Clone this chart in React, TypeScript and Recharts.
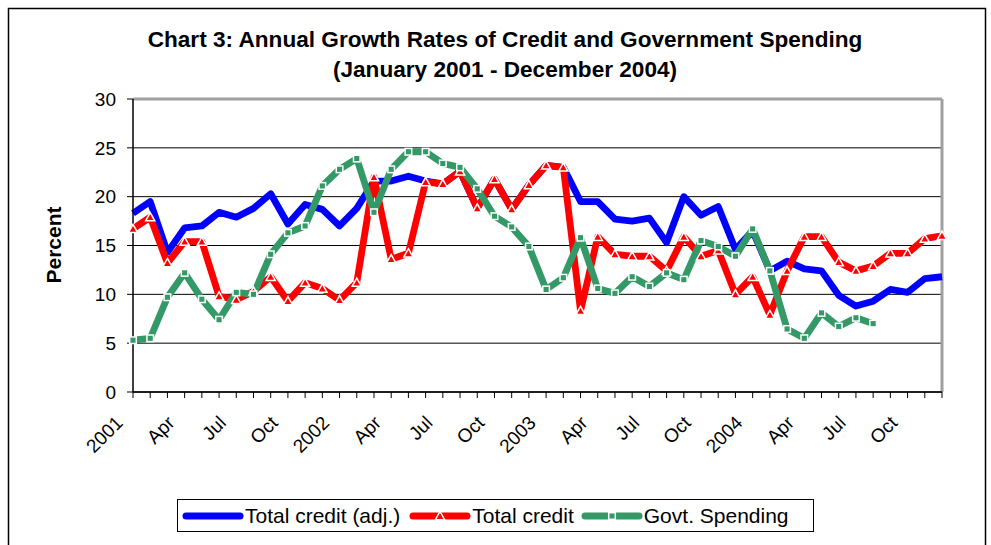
import React from "react";
import { LineChart, Line, XAxis, YAxis, CartesianGrid, ReferenceLine } from "recharts";

const categories = [
  "Jan 2001", "Feb 2001", "Mar 2001", "Apr 2001", "May 2001", "Jun 2001",
  "Jul 2001", "Aug 2001", "Sep 2001", "Oct 2001", "Nov 2001", "Dec 2001",
  "Jan 2002", "Feb 2002", "Mar 2002", "Apr 2002", "May 2002", "Jun 2002",
  "Jul 2002", "Aug 2002", "Sep 2002", "Oct 2002", "Nov 2002", "Dec 2002",
  "Jan 2003", "Feb 2003", "Mar 2003", "Apr 2003", "May 2003", "Jun 2003",
  "Jul 2003", "Aug 2003", "Sep 2003", "Oct 2003", "Nov 2003", "Dec 2003",
  "Jan 2004", "Feb 2004", "Mar 2004", "Apr 2004", "May 2004", "Jun 2004",
  "Jul 2004", "Aug 2004", "Sep 2004", "Oct 2004", "Nov 2004", "Dec 2004",
];

const tickLabels = [
  "2001", "Apr", "Jul", "Oct",
  "2002", "Apr", "Jul", "Oct",
  "2003", "Apr", "Jul", "Oct",
  "2004", "Apr", "Jul", "Oct",
];

const totalCreditAdj = [
  18.3, 19.5, 14.3, 16.8, 17.0, 18.4, 17.9, 18.8, 20.3, 17.2, 19.2, 18.7,
  17.0, 18.8, 21.6, 21.6, 22.1, 21.6, 21.3, 22.6, 18.8, 21.8, 18.7, 21.2,
  23.2, 23.0, 19.5, 19.5, 17.7, 17.5, 17.8, 15.3, 20.0, 18.1, 19.0, 14.6,
  16.5, 12.4, 13.4, 12.6, 12.4, 9.9, 8.8, 9.3, 10.5, 10.2, 11.6, 11.8,
];

const totalCredit = [
  16.7, 17.9, 13.2, 15.4, 15.4, 9.8, 9.45, 10.3, 11.8, 9.3, 11.2, 10.6,
  9.4, 11.2, 22.0, 13.6, 14.2, 21.5, 21.3, 22.6, 18.8, 21.8, 18.7, 21.2,
  23.2, 23.0, 8.3, 15.9, 14.1, 13.9, 13.9, 12.4, 15.9, 13.9, 14.5, 10.0,
  11.8, 7.9, 12.4, 15.9, 15.9, 13.3, 12.4, 12.9, 14.2, 14.2, 15.7, 16.0,
];

const govtSpending = [
  5.3, 5.5, 9.7, 12.2, 9.5, 7.4, 10.2, 10.0, 14.1, 16.3, 17.0, 21.1,
  22.8, 23.9, 18.4, 22.8, 24.6, 24.6, 23.4, 23.0, 20.8, 18.0, 16.9, 14.9,
  10.5, 11.7, 15.8, 10.6, 10.1, 11.8, 10.8, 12.2, 11.5, 15.5, 14.9, 13.9,
  16.7, 12.4, 6.45, 5.5, 8.1, 6.7, 7.6, 7.0, null, null, null, null,
];

const yTicks = [0, 5, 10, 15, 20, 25, 30];

const data = categories.map((m, i) => ({
  month: m,
  adj: totalCreditAdj[i],
  credit: totalCredit[i],
  govt: govtSpending[i],
}));

const FONT = "'Liberation Sans', Arial, Helvetica, sans-serif";
const BLUE = "#0000FF";
const RED = "#FF0000";
const GREEN = "#339966";

function XTick(props: any) {
  const { x, y, payload } = props;
  const idx = categories.indexOf(payload.value);
  if (idx < 0 || idx % 3 !== 0) return null;
  const label = tickLabels[idx / 3];
  const ax = x - 9;
  const ay = y + 24;
  return (
    <text
      x={ax}
      y={ay}
      transform={`rotate(-45 ${ax} ${ay})`}
      textAnchor="end"
      fontSize={19}
      fontFamily={FONT}
      fill="#000"
    >
      {label}
    </text>
  );
}

function TriangleDot(props: any) {
  const { cx, cy, index } = props;
  if (cx == null || cy == null) return <g key={`t${index}`} />;
  const s = 4.6;
  const pts = `${cx},${cy - s} ${cx + s},${cy + s * 0.8} ${cx - s},${cy + s * 0.8}`;
  return <polygon key={`t${index}`} points={pts} fill={RED} stroke="#fff" strokeWidth={1.5} />;
}

function SquareDot(props: any) {
  const { cx, cy, index, value } = props;
  if (cx == null || cy == null || value == null) return <g key={`s${index}`} />;
  const s = 3.3;
  return (
    <rect key={`s${index}`} x={cx - s} y={cy - s} width={2 * s} height={2 * s} fill={GREEN} stroke="#fff" strokeWidth={1.5} />
  );
}

function LegendBox() {
  const textStyle: React.CSSProperties = { fontSize: 21, fontFamily: FONT, color: "#000", whiteSpace: "nowrap" };
  return (
    <div
      style={{
        position: "absolute",
        left: 177,
        top: 499,
        width: 631,
        height: 31,
        border: "1px solid #000",
        background: "#fff",
        display: "flex",
        alignItems: "center",
        paddingLeft: 4,
        boxSizing: "content-box",
      }}
    >
      <svg width={62} height={12} style={{ marginRight: 1 }}>
        <line x1={4} y1={6} x2={58} y2={6} stroke={BLUE} strokeWidth={7} strokeLinecap="round" />
      </svg>
      <span style={textStyle}>Total credit (adj.)</span>
      <svg width={62} height={14} style={{ marginLeft: 9, marginRight: 1 }}>
        <line x1={4} y1={7} x2={58} y2={7} stroke={RED} strokeWidth={7} strokeLinecap="round" />
        <polygon points="31,2.4 35.6,10.7 26.4,10.7" fill={RED} stroke="#fff" strokeWidth={1.5} />
      </svg>
      <span style={textStyle}>Total credit</span>
      <svg width={62} height={14} style={{ marginLeft: 7, marginRight: 1 }}>
        <line x1={4} y1={7} x2={58} y2={7} stroke={GREEN} strokeWidth={7} strokeLinecap="round" />
        <rect x={27.7} y={3.7} width={6.6} height={6.6} fill={GREEN} stroke="#fff" strokeWidth={1.5} />
      </svg>
      <span style={textStyle}>Govt. Spending</span>
    </div>
  );
}

export default function App() {
  return (
    <div style={{ position: "absolute", left: 0, top: 0, width: 991, height: 545, background: "#fff", overflow: "hidden" }}>
      <LineChart
        width={991}
        height={545}
        data={data}
        margin={{ top: 99, right: 49, bottom: 93, left: 73 }}
      >
        <CartesianGrid vertical={false} stroke="#000" strokeWidth={1} />
        <XAxis
          dataKey="month"
          interval={0}
          tick={<XTick />}
          tickSize={6}
          tickLine={{ stroke: "#000", strokeWidth: 1 }}
          axisLine={{ stroke: "#000", strokeWidth: 1.5 }}
          height={60}
          padding={{ left: 0, right: 0 }}
        />
        <YAxis
          domain={[0, 30]}
          ticks={yTicks}
          interval={0}
          width={60}
          tickSize={6}
          tickMargin={11}
          tickLine={{ stroke: "#000", strokeWidth: 1 }}
          axisLine={{ stroke: "#000", strokeWidth: 1.5 }}
          tick={{ fontSize: 19, fontFamily: FONT, fill: "#000" }}
        />
        <ReferenceLine y={30} stroke="#a0a0a0" strokeWidth={3} />
        <ReferenceLine x={categories[categories.length - 1]} stroke="#a0a0a0" strokeWidth={3} />
        <Line
          type="linear"
          dataKey="adj"
          stroke={BLUE}
          strokeWidth={6.8}
          strokeLinejoin="round"
          dot={false}
          activeDot={false}
          isAnimationActive={false}
        />
        <Line
          type="linear"
          dataKey="credit"
          stroke={RED}
          strokeWidth={6.8}
          strokeLinejoin="round"
          dot={<TriangleDot />}
          activeDot={false}
          isAnimationActive={false}
        />
        <Line
          type="linear"
          dataKey="govt"
          stroke={GREEN}
          strokeWidth={6.8}
          strokeLinejoin="round"
          dot={<SquareDot />}
          activeDot={false}
          isAnimationActive={false}
        />
      </LineChart>
      <svg
        width={991}
        height={545}
        style={{ position: "absolute", left: 0, top: 0, pointerEvents: "none" }}
      >
        <rect x={8.5} y={8.5} width={977} height={600} fill="none" stroke="#000" strokeWidth={1.5} />
        <text x={505} y={47} textAnchor="middle" fontSize={22.6} fontWeight="bold" fontFamily={FONT} fill="#000">
          Chart 3: Annual Growth Rates of Credit and Government Spending
        </text>
        <text x={505} y={77} textAnchor="middle" fontSize={22.6} fontWeight="bold" fontFamily={FONT} fill="#000">
          (January 2001 - December 2004)
        </text>
        <text
          x={53}
          y={245}
          transform="rotate(-90 53 245)"
          textAnchor="middle"
          dominantBaseline="central"
          fontSize={21}
          fontWeight="bold"
          fontFamily={FONT}
          fill="#000"
        >
          Percent
        </text>
      </svg>
      <LegendBox />
    </div>
  );
}
